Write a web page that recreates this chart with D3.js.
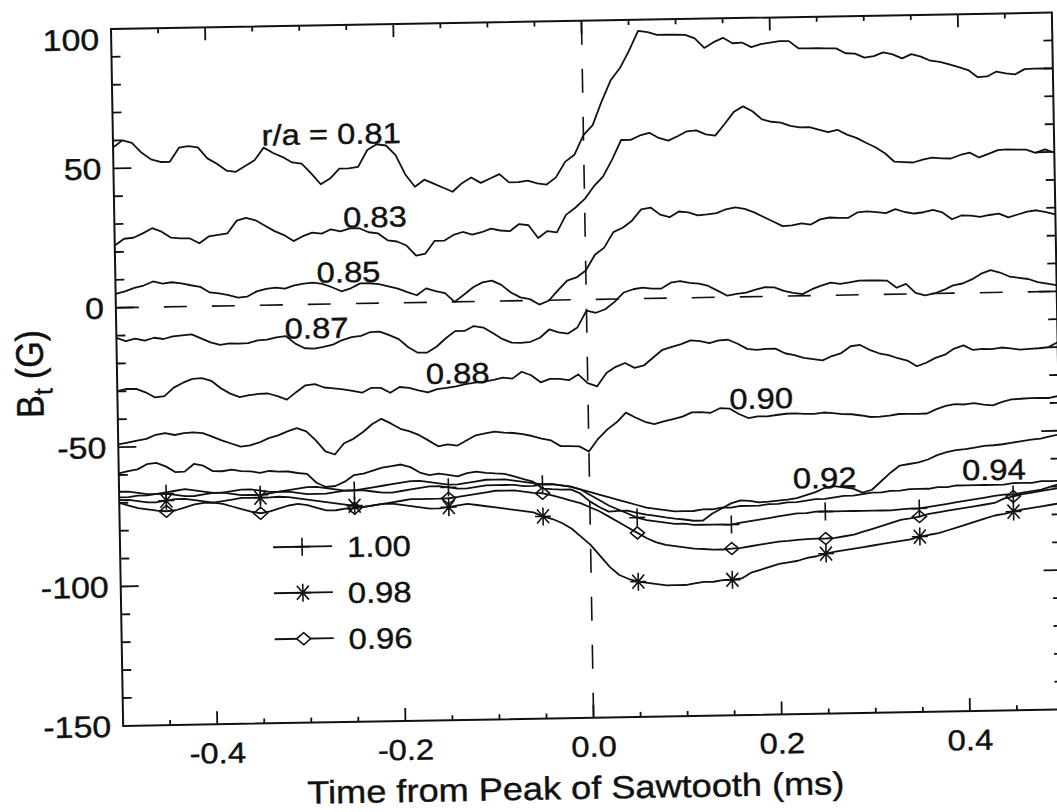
<!DOCTYPE html>
<html>
<head>
<meta charset="utf-8">
<script src="https://cdn.jsdelivr.net/npm/d3@7"></script>
<style>
  html, body { margin: 0; padding: 0; background: #fff; }
  svg { display: block; }
  text { font-family: "Liberation Sans", Arial, Helvetica, sans-serif; fill: #111; stroke: #111; stroke-width: 0.4px; }
</style>
</head>
<body>
<svg id="chart" width="1057" height="812"></svg>
<script>
// Sampling grid of the traces (ms from the sawtooth peak)
const times = d3.range(101).map(i => +(-0.5 + i * 0.01).toFixed(2));

// Toroidal field perturbation B_t (G) at each radius r/a
const r081 = [57.5,60,59,55.5,53,52,52,57,57.5,57, 53,51,48.5,48,50,52,56.5,54.5,53,51,
  50.5,47,43,45,48.5,48.5,49,55,57,56.5, 53,46,41.5,44,42.5,41,39.5,42.5,44.5,42.5,
  44,45.5,42.5,42.5,43,42,41.5,44,49.5,52, 59,62.5,71,78.5,82.8,89,96,95.5,94.5,94.5,
  94.4,94.3,93,89.5,91.5,93,91,91.2,89.5,90.5, 91,91.5,91.4,88.8,88.7,88.7,88.6,88.5,86.7,86.5,
  85,85.5,86.8,86,84.5,86,85,83.5,83,82.1, 81,79.9,77.3,77.5,79.2,78.5,78.1,79.9,80,80, 80];
const r083 = [22.3,24.7,25,26.5,28.3,27,24.8,24.5,24.4,22.6, 25,25.5,26,30.5,31.4,30.5,28.5,26.5,25,22.8,
  24.5,25.7,25.3,26.8,26,27,27,25.5,25,22.5, 22,20.5,16.8,17.5,22,22,24,25,24,24.8,
  26,25.3,25,27.5,27,22.4,24.8,24.3,30.5,33, 36,40.5,44,50,57,57,58.5,59.4,57.5,56.5,
  58,59.7,60,58.5,58,62,66.3,68.3,66.5,63.5, 62.6,62.2,61,60.4,60.4,59.5,58.5,59.3,57.5,56.3,
  54.5,52.8,50.6,47.5,47.3,47.1,48.1,48.7,48.4,48.3, 49.5,50.3,48.5,49.7,51,51.2,51.1,51,49.8,51, 49.8];
const r085 = [5,5.8,7,7.8,9.2,8.4,8.8,8.3,7.6,7, 4.9,4.5,3.8,2.9,3.2,5,5.8,6.2,5.8,6.9,
  7.5,7.8,7.3,6,4.5,5.5,7.2,7.2,6.8,6, 5.1,3.8,2.6,5,4,3.2,0,2.5,5.1,6.8,
  7.4,5.8,3,1.2,0.5,-1.5,-0.2,3.5,6.9,8, 10.4,16,18.5,24,25.5,28,32,32.6,30,29,
  31,30.6,29.5,29.8,30.2,31.5,32.1,31.5,30.2,28.5, 26.8,25.1,25.3,26,25.5,27.3,27.9,27.7,27.7,29.6,
  29.9,29.5,29.1,30.5,29.4,28.8,29.2,30,29,26.5, 27.8,27.7,27.2,27.8,28.2,26.8,27.8,28.8,29.2,28.5, 27.6];
const r087 = [-10.8,-12,-11.2,-12,-11,-11.5,-10.6,-10.3,-10,-11.5, -13,-14,-13.5,-13.6,-13.5,-12.6,-12.4,-11.6,-11.2,-14,
  -15.7,-15.9,-15.3,-14.6,-13,-12,-11.6,-10.3,-10.2,-11.5, -13,-16,-18,-18,-16,-13,-10.5,-10.5,-8.8,-9.4,
  -11.4,-13.6,-15,-15.1,-14.8,-13.4,-10.5,-11.6,-12.1,-10, -4,-4.8,-3.6,-1,2.3,3.4,3.9,3.5,3.5,5.5,
  6,5.3,5,4.1,2.3,0.5,1.1,1.5,2.5,3.3, 3.2,1.9,1.1,0.6,2.3,3.5,4.5,4,4.5,5.1,
  5.1,5,4.9,2.3,3.6,0.3,-0.6,0,1.2,2.8, 3.4,4.8,6.8,8,7.1,5.6,5.1,4.6,3.4,2.8, 2.2];
const r088 = [-29.9,-29.2,-29.2,-30.5,-32.4,-32,-29,-27.3,-26,-25.8, -26.8,-29.5,-31.5,-32.8,-32.2,-31.8,-31.7,-32.7,-34,-31.4,
  -29,-28.6,-29.9,-30.3,-30.7,-31.3,-32,-30.3,-30.4,-32.2, -30.2,-30.6,-31.5,-32.3,-31.2,-30.8,-30.3,-29.6,-29.1,-28.8,
  -28.2,-27.5,-27.9,-25.5,-26.8,-29.4,-28.2,-28.3,-28.8,-26.8, -30,-31.2,-26.5,-24.3,-23,-24.8,-24,-21.2,-18.5,-17.5,
  -16.6,-15.3,-15.6,-16.4,-15.5,-15.3,-16.8,-18.7,-19.1,-18.8, -18.8,-20.5,-21.2,-22.3,-22.8,-23.3,-21.8,-20.8,-18.4,-18,
  -19.8,-21.1,-21.8,-23,-23.9,-26,-24.8,-23.1,-22,-19.9, -18.8,-20.5,-20.2,-20.3,-19.8,-20.2,-20.7,-20.5,-20.3,-20, -18.2];
const r090 = [-49,-48.4,-47.8,-47.2,-45.8,-45.3,-46,-45.4,-45.2,-45.5, -46.8,-48.2,-49.4,-50.6,-50.2,-49.2,-47.7,-46.8,-45.4,-44.3,
  -45.5,-48.8,-52.8,-54,-50,-48.5,-46.2,-43.4,-41.5,-43.2, -45.2,-46.2,-47.6,-49.6,-51.7,-51.1,-51.6,-49.8,-48,-47.4,
  -46.8,-47.2,-47.4,-47.9,-48.6,-49.6,-50.3,-52.4,-52.5,-52.6, -54.5,-50,-46.7,-44.2,-40.8,-42.6,-44.2,-45.1,-44.2,-43.4,
  -42.6,-41.1,-41.1,-41.4,-39.8,-40,-42,-43.5,-43,-43, -42.6,-42.2,-42.1,-42.4,-42.4,-42,-42.3,-42.7,-42.8,-43.3,
  -43.9,-43.8,-43.5,-43,-43,-43.1,-43,-41.5,-40.4,-39.8, -40,-39.6,-40.2,-40.5,-39.3,-38.5,-38.3,-38.1,-38.1,-38.2, -37.5];
const r092 = [-59.4,-58.7,-58.1,-56.3,-55.9,-57.2,-59.3,-59.2,-56.5,-57.2, -59.2,-59.3,-58.8,-59.4,-59.5,-60.1,-59.5,-59.8,-59.8,-60.4,
  -60.8,-64,-65.6,-65.3,-63.8,-61.5,-61,-60,-59,-58.5, -58,-59,-61,-62,-61.5,-62,-62.6,-61.5,-61,-61.5,
  -61.8,-62,-63,-64,-65,-67.5,-67.8,-68,-68,-69.5, -72.4,-74.5,-76.2,-76,-76,-76.8,-77.5,-78,-78.6,-79.1,
  -79.5,-80,-80,-77.5,-75.8,-74,-73,-73.2,-73.8,-73.6, -73.3,-73,-72.5,-71.5,-70.5,-69,-68.5,-69,-69.5,-71,
  -70,-67,-64,-61.5,-61,-60.5,-59.5,-58,-57,-56.3, -56,-55.5,-55,-54.8,-54.5,-54,-53.5,-53,-52.7,-52, -51.3];
const r094 = [-66,-66,-66.5,-67,-67,-66.5,-66,-65.5,-66,-66.5, -67,-67,-66.5,-66,-66,-66.5,-67,-67,-66.5,-66,
  -65.5,-65.5,-66,-66.5,-67,-67,-66.5,-66,-65.5,-65, -64.5,-64,-64,-64.5,-65,-65.5,-65.5,-65,-64.5,-64,
  -64,-64,-64.5,-65,-65.5,-66,-66,-66.5,-67,-68, -69,-70,-71,-72,-73,-74,-75,-75.5,-76,-76.5,
  -76.5,-76.5,-76,-76,-75.5,-75.5,-75,-75,-75,-74.5, -74.5,-74,-74,-73.5,-73,-73,-72.5,-72,-72,-71.5,
  -71,-71,-70.5,-70.5,-70,-70,-70,-69.5,-69.5,-69, -69,-69,-69,-69,-69,-68.5,-68.5,-68.5,-68,-68, -68];
const r096 = [-70,-71,-72,-72.5,-73,-73.3,-73,-72,-71,-70.5, -70.5,-71,-72,-73,-74,-74.6,-74,-73,-72,-71.5,
  -72,-73,-74,-74,-73.5,-73.4,-73,-72.5,-72,-71.5, -71,-70.5,-70.5,-70.5,-70.5,-70.4,-70,-69.5,-69,-68.5,
  -68,-68,-68,-68.5,-69,-69.2,-70,-71,-72,-73, -74.5,-76,-78,-80,-82,-84,-86,-87.5,-88.5,-89,
  -89.5,-90,-90.2,-90.5,-90.5,-90.2,-90,-89.5,-89,-88.5, -88,-87.8,-87.5,-87.3,-87.2,-87.2,-87,-86.5,-86,-85,
  -84,-83,-82,-81,-80.5,-79.9,-79,-78.5,-78,-77.5, -77,-76.5,-76,-75.5,-74,-73.3,-72.5,-72,-71.5,-71, -70.5];
const r098 = [-69,-69,-69.5,-70,-70,-69.5,-69,-69,-69.5,-70, -70.5,-70,-69.5,-69,-69,-69,-69,-68.8,-69,-69.5,
  -70,-70.5,-71,-71.5,-72,-72.5,-73,-72.5,-72,-72, -72.5,-73,-73.5,-74,-74,-73.6,-73,-72.5,-73,-73.5,
  -74,-74.5,-75,-75.5,-76,-77.5,-78.5,-80,-82,-85, -88,-92,-96,-99,-100.5,-101.5,-102,-102.5,-103,-103,
  -103,-102.5,-102,-102,-101.5,-101.4,-101,-99,-98,-97, -96,-95.5,-95,-94,-93.5,-92.6,-92,-91.5,-91,-90.5,
  -90,-89.5,-89,-88.5,-88,-87.1,-86.5,-86,-85,-84, -83,-82,-81,-80,-79.5,-78.7,-78,-77.5,-77,-76.5, -76];
const r100 = [-68,-68,-67.5,-67.5,-67,-67,-67.5,-68,-68,-67.5, -67,-67,-67.5,-68,-68,-68,-67.5,-67,-67,-67.5,
  -68,-68,-68,-67.5,-67,-67,-67,-67.5,-68,-68, -67.5,-67,-66.5,-66,-66,-66.5,-67,-67,-66.5,-66,
  -66,-66,-66,-66.5,-66.5,-66,-66,-66.5,-67,-68, -70,-72,-74,-75.5,-77,-78.5,-79.5,-80,-80.5,-81,
  -81,-81.5,-81.5,-81.5,-81.5,-81.6,-81,-80.5,-80,-79.5, -79,-78.5,-78,-78,-77.5,-77.5,-77.5,-77.5,-77.5,-77.5,
  -77.5,-77.5,-77.5,-77.2,-77,-77,-76.5,-76,-75.5,-75, -74.5,-74,-73.5,-73,-72.6,-72.6,-72,-71.5,-71,-70, -69];

const radii = ["0.81","0.83","0.85","0.87","0.88","0.90","0.92","0.94","0.96","0.98","1.00"];
const values = [r081, r083, r085, r087, r088, r090, r092, r094, r096, r098, r100];
const markerOf = {"0.96": "diamond", "0.98": "asterisk", "1.00": "plus"};

// Curve annotations, anchored in data units (time, field)
const curveLabels = [
  {text: "r/a = 0.81", t: -0.342, v: 57.3},
  {text: "0.83", t: -0.257, v: 27.3},
  {text: "0.85", t: -0.286, v: 7.7},
  {text: "0.87", t: -0.321, v: -12.2},
  {text: "0.88", t: -0.172, v: -29.3},
  {text: "0.90", t: 0.150, v: -40.2},
  {text: "0.92", t: 0.216, v: -69.1},
  {text: "0.94", t: 0.396, v: -67.2}
];
const legendItems = ["1.00", "0.98", "0.96"];

const xMajor = [-0.4, -0.2, 0.0, 0.2, 0.4];
const xMajorLabels = ["-0.4", "-0.2", "0.0", "0.2", "0.4"];
const xMinor = d3.range(-0.45, 0.5, 0.05);
const yMajor = [100, 50, 0, -50, -100, -150];
const yMajorLabels = ["100", "50", "0", "-50", "-100", "-150"];
const yMinor = d3.range(-140, 100, 10);

// ---- layout ----
const W = 941, H = 697;
const ink = "#111";
const stretch = 1.13;   // glyphs are drawn a little wide

const svg = d3.select("#chart");
const g = svg.append("g").attr("transform", "translate(111,29) rotate(-1)");

const x = d3.scaleLinear().domain([-0.5, 0.5]).range([0, W]);
const y = d3.scaleLinear().domain([-150, 100]).range([H, 0]);

function putText(sel, px, py) {
  return sel.attr("transform", `translate(${px},${py}) scale(${stretch},1)`);
}

// frame
g.append("rect").attr("x", 0).attr("y", 0).attr("width", W).attr("height", H)
  .attr("fill", "none").attr("stroke", ink).attr("stroke-width", 2);

// ticks on all four sides
const tickG = g.append("g").attr("stroke", ink).attr("stroke-width", 1.8);
xMinor.forEach(t => {
  const major = xMajor.some(m => Math.abs(m - t) < 1e-6);
  const L = major ? 13 : 5;
  tickG.append("line").attr("x1", x(t)).attr("x2", x(t)).attr("y1", H).attr("y2", H - L);
  tickG.append("line").attr("x1", x(t)).attr("x2", x(t)).attr("y1", 0).attr("y2", L);
});
yMinor.forEach(v => {
  const major = yMajor.includes(Math.round(v));
  const L = major ? 18 : 9;
  tickG.append("line").attr("x1", 0).attr("x2", L).attr("y1", y(v)).attr("y2", y(v));
  tickG.append("line").attr("x1", W).attr("x2", W - L).attr("y1", y(v)).attr("y2", y(v));
});

// tick labels
xMajor.forEach((t, i) => {
  putText(g.append("text"), x(t), H + 39)
    .attr("text-anchor", "middle").attr("font-size", 29).text(xMajorLabels[i]);
});
yMajor.forEach((v, i) => {
  putText(g.append("text"), -12, Math.max(y(v), 10))
    .attr("text-anchor", "end").attr("dy", "0.36em").attr("font-size", 30).text(yMajorLabels[i]);
});

// axis titles
putText(g.append("text"), W / 2 - 19, H + 81)
  .attr("text-anchor", "middle").attr("font-size", 32)
  .text("Time from Peak of Sawtooth (ms)");
const yt = g.append("g").attr("transform", `translate(-74,${H / 2 - 5}) scale(${stretch},1)`)
  .append("text").attr("transform", "rotate(-90)").attr("text-anchor", "middle").attr("font-size", 34);
yt.append("tspan").text("B");
yt.append("tspan").attr("font-size", 24).attr("dy", 8).text("t");
yt.append("tspan").attr("dy", -8).text(" (G)");

// reference lines at zero
g.append("line").attr("x1", 0).attr("x2", W).attr("y1", y(0)).attr("y2", y(0))
  .attr("stroke", ink).attr("stroke-width", 1.6).attr("stroke-dasharray", "23,25");
g.append("line").attr("x1", x(0)).attr("x2", x(0)).attr("y1", 0).attr("y2", H)
  .attr("stroke", ink).attr("stroke-width", 1.6).attr("stroke-dasharray", "24,24");

// traces
const line = d3.line().x((d, i) => x(times[i])).y(d => y(d));
const traceG = g.append("g").attr("fill", "none").attr("stroke", ink)
  .attr("stroke-width", 1.8).attr("stroke-linejoin", "round");
values.forEach(vals => traceG.append("path").attr("d", line(vals)));

// marker shapes
const shapes = {
  plus: "M-8,0H8M0,-9V9",
  asterisk: "M-8,0H8M0,-9V9M-6,-7L6,7M-6,7L6,-7",
  diamond: "M0,-6L7,0L0,6L-7,0Z"
};
const markG = g.append("g").attr("stroke", ink).attr("stroke-width", 1.6).attr("fill", "none");
radii.forEach((r, k) => {
  const m = markerOf[r];
  if (!m) return;
  values[k].forEach((v, i) => {
    if (i % 10 !== 5) return;
    markG.append("path").attr("d", shapes[m])
      .attr("transform", `translate(${x(times[i])},${y(v)})`);
  });
});

// curve labels
curveLabels.forEach(c => {
  putText(g.append("text"), x(c.t), y(c.v)).attr("font-size", 29).text(c.text);
});

// legend
legendItems.forEach((r, i) => {
  const ly = 521 + i * 46;
  g.append("line").attr("x1", 153).attr("x2", 212).attr("y1", ly).attr("y2", ly)
    .attr("stroke", ink).attr("stroke-width", 1.8);
  g.append("path").attr("d", shapes[markerOf[r]])
    .attr("transform", `translate(182,${ly})`)
    .attr("stroke", ink).attr("stroke-width", 1.6).attr("fill", markerOf[r] === "diamond" ? "#fff" : "none");
  putText(g.append("text"), 227, ly + 11).attr("font-size", 29).text(r);
});
</script>
</body>
</html>
